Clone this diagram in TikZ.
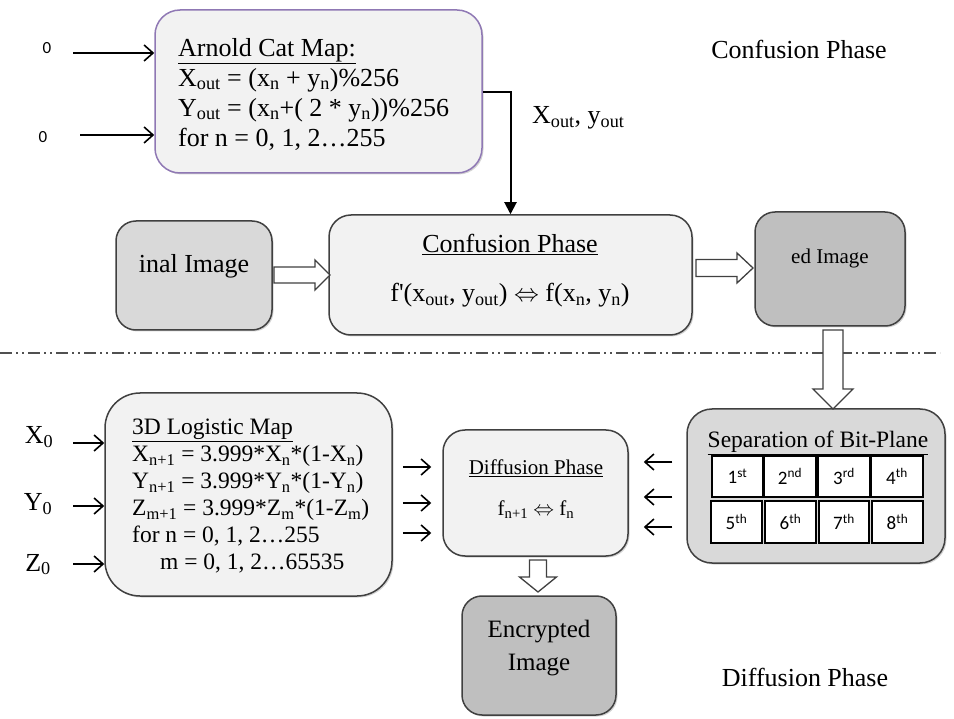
\documentclass[tikz,border=0pt]{standalone}
\usepackage{fontspec}
\setmainfont{Liberation Serif}
\newfontfamily\cellfont{Carlito}
\usetikzlibrary{arrows.meta,shadows,calc}

\definecolor{boxlight}{HTML}{F2F2F2}
\definecolor{boxmid}{HTML}{D9D9D9}
\definecolor{boxdark}{HTML}{BFBFBF}
\definecolor{edgegray}{HTML}{404040}
\definecolor{catedge}{HTML}{8F78B4}
\definecolor{sepline}{HTML}{505050}

\newcommand\fbig{\fontsize{26}{30}\selectfont}
\newcommand\fmid{\fontsize{23.5}{27}\selectfont}
\newcommand\fsmall{\fontsize{21}{25}\selectfont}

\begin{document}
\begin{tikzpicture}[x=1pt,y=-1pt,
  panel/.style={draw=edgegray, line width=1.5pt, inner sep=0pt,
    drop shadow={shadow xshift=1.5pt, shadow yshift=-1.5pt, opacity=0.35}},
  txt/.style={inner sep=0pt, font=\fbig},
  cell/.style={draw=black, line width=1.2pt, fill=white, inner sep=0pt,
    font=\cellfont\fontsize{19}{21}\selectfont},
  thinarrow/.style={line width=1.6pt, -{Straight Barb[length=9pt,width=16pt,line width=1.6pt]}},
  feedarrow/.style={line width=2pt, -{Triangle[length=12pt,width=12pt]}},
  hollow/.style={draw=edgegray, fill=white, line width=1.3pt, line join=miter}
]
\useasboundingbox (0,0) rectangle (954,719);

% ---------- section divider ----------
\coordinate (divL) at (0,353);
\coordinate (divR) at (940,353);
\draw[sepline, line width=1.5pt,
  dash pattern=on 12pt off 4pt on 2pt off 4pt on 2pt off 4pt] (divL) -- (divR);

% ---------- confusion phase (top) ----------
\node[panel, draw=catedge, fill=boxlight, rounded corners=25pt,
  minimum width=327pt, minimum height=163pt] (cat) at (318.5,91.5) {};
\node[txt, anchor=north west, align=left] (cattxt) at (178,38)
  {\underline{Arnold Cat Map:}\\
   X\textsubscript{out} = (x\textsubscript{n} + y\textsubscript{n})\%256\\
   Y\textsubscript{out} = (x\textsubscript{n}+( 2 * y\textsubscript{n}))\%256\\
   for n = 0, 1, 2…255};

\node[inner sep=0pt, font=\cellfont\fontsize{17}{19}\selectfont] (in1) at (47,48) {0};
\node[inner sep=0pt, font=\cellfont\fontsize{17}{19}\selectfont] (in2) at (43,137) {0};
\coordinate (in1t) at (73,53);
\coordinate (in2t) at (80,135);
\draw[thinarrow] (in1t) -- (in1t -| cat.west);
\draw[thinarrow] (in2t) -- (in2t -| cat.west);

\node[txt, anchor=base] (ptop) at (799,59) {Confusion Phase};

\node[panel, fill=boxmid, rounded corners=20pt,
  minimum width=156pt, minimum height=109pt] (orig) at (194,275.5) {};
\node[txt, anchor=base] (origtxt) at (194,273) {inal Image};

\node[panel, fill=boxlight, rounded corners=22pt,
  minimum width=363pt, minimum height=120pt] (conf) at (510.5,275) {};
\node[txt, anchor=base] (conftitle) at (510,253) {\underline{Confusion Phase}};
\node[txt, anchor=base] (confeq) at (510,302)
  {f\textquotesingle(x\textsubscript{out}, y\textsubscript{out}) $\Leftrightarrow$ f(x\textsubscript{n}, y\textsubscript{n})};

\node[panel, fill=boxdark, rounded corners=20pt,
  minimum width=150pt, minimum height=114pt] (edimg) at (830,269) {};
\node[txt, font=\fsmall, anchor=base] (edtxt) at (830,264) {ed Image};

\coordinate (fb) at (0,92);
\draw[feedarrow] (cat.east |- fb) -| (conf.north);
\node[txt, anchor=base west] (xylbl) at (532,124) {X\textsubscript{out}, y\textsubscript{out}};

% hollow block arrows
\coordinate (ba1) at (274,275);
\draw[hollow] (ba1) ++(0,-8) -- ++(41,0) -- ++(0,-7) -- ++(15,15)
  -- ++(-15,15) -- ++(0,-7) -- ++(-41,0) -- cycle;
\coordinate (ba2) at (696,268);
\draw[hollow] (ba2) ++(0,-8.5) -- ++(41,0) -- ++(0,-6.5) -- ++(16,15)
  -- ++(-16,15) -- ++(0,-6.5) -- ++(-41,0) -- cycle;

% ---------- diffusion phase (bottom) ----------
\node[panel, fill=boxmid, rounded corners=25pt,
  minimum width=258pt, minimum height=154pt] (sep) at (816,486) {};
\node[txt, font=\fmid, anchor=base] (septitle) at (818,448) {\underline{Separation of Bit-Plane}};

\node[cell, minimum width=51pt, minimum height=41pt] (b1) at (737.5,476.5) {1\textsuperscript{st}};
\node[cell, minimum width=52pt, minimum height=41pt] (b2) at (790,476.5) {2\textsuperscript{nd}};
\node[cell, minimum width=52pt, minimum height=41pt] (b3) at (844,476.5) {3\textsuperscript{rd}};
\node[cell, minimum width=52pt, minimum height=41pt] (b4) at (897,476.5) {4\textsuperscript{th}};
\node[cell, minimum width=51pt, minimum height=42pt] (b5) at (736.5,522) {5\textsuperscript{th}};
\node[cell, minimum width=51pt, minimum height=42pt] (b6) at (790.5,522) {6\textsuperscript{th}};
\node[cell, minimum width=50pt, minimum height=42pt] (b7) at (844,522) {7\textsuperscript{th}};
\node[cell, minimum width=51pt, minimum height=42pt] (b8) at (897.5,522) {8\textsuperscript{th}};

\coordinate (ba3) at (833,330);
\draw[hollow] (ba3) ++(-10,0) -- ++(0,59) -- ++(-10,0) -- ++(20,20)
  -- ++(20,-20) -- ++(-10,0) -- ++(0,-59) -- cycle;

\node[panel, fill=boxlight, rounded corners=35pt,
  minimum width=287pt, minimum height=203pt] (logi) at (248.5,494.5) {};
\node[txt, font=\fmid, anchor=north west, align=left] (logitxt) at (132,419)
  {\underline{3D Logistic Map}\\
   X\textsubscript{n+1} = 3.999*X\textsubscript{n}*(1-X\textsubscript{n})\\
   Y\textsubscript{n+1} = 3.999*Y\textsubscript{n}*(1-Y\textsubscript{n})\\
   Z\textsubscript{m+1} = 3.999*Z\textsubscript{m}*(1-Z\textsubscript{m})\\
   for n = 0, 1, 2…255\\
   \hspace*{28pt}m = 0, 1, 2…65535};

\node[txt, anchor=base] (x0) at (39,444) {X\textsubscript{0}};
\node[txt, anchor=base] (y0) at (38,511) {Y\textsubscript{0}};
\node[txt, anchor=base] (z0) at (38,571) {Z\textsubscript{0}};
\coordinate (x0t) at (73,443);
\coordinate (y0t) at (73,506);
\coordinate (z0t) at (73,564);
\draw[thinarrow] (x0t) -- (x0t -| logi.west);
\draw[thinarrow] (y0t) -- (y0t -| logi.west);
\draw[thinarrow] (z0t) -- (z0t -| logi.west);

\node[panel, fill=boxlight, rounded corners=22pt,
  minimum width=185pt, minimum height=126pt] (diff) at (535.5,493) {};
\node[txt, font=\fsmall, anchor=base] (difftitle) at (536,475) {\underline{Diffusion Phase}};
\node[txt, font=\fsmall, anchor=base] (diffeq) at (536,515)
  {f\textsubscript{n+1} $\Leftrightarrow$ f\textsubscript{n}};

\coordinate (r1) at (0,467);
\coordinate (r2) at (0,503);
\coordinate (r3) at (0,533);
\foreach \r in {r1,r2,r3}
  \draw[thinarrow, shorten <=10pt, shorten >=11pt] (logi.east |- \r) -- (diff.west |- \r);

\coordinate (l1) at (0,462);
\coordinate (l2) at (0,497);
\coordinate (l3) at (0,527);
\foreach \r in {l1,l2,l3}
  \draw[thinarrow, shorten <=14pt, shorten >=15pt] (sep.west |- \r) -- (diff.east |- \r);

\node[panel, fill=boxdark, rounded corners=20pt,
  minimum width=154pt, minimum height=119pt] (enc) at (539,655.5) {};
\node[txt, anchor=north, align=center, font=\fontsize{25}{33}\selectfont] (enctxt) at (539,620)
  {Encrypted\\Image};

\coordinate (ba4) at (538,560);
\draw[hollow] (ba4) ++(-8.5,0) -- ++(0,17) -- ++(-10,0) -- ++(18.5,15)
  -- ++(18.5,-15) -- ++(-10,0) -- ++(0,-17) -- cycle;

\node[txt, anchor=base] (pbot) at (805,686) {Diffusion Phase};
\end{tikzpicture}
\end{document}
